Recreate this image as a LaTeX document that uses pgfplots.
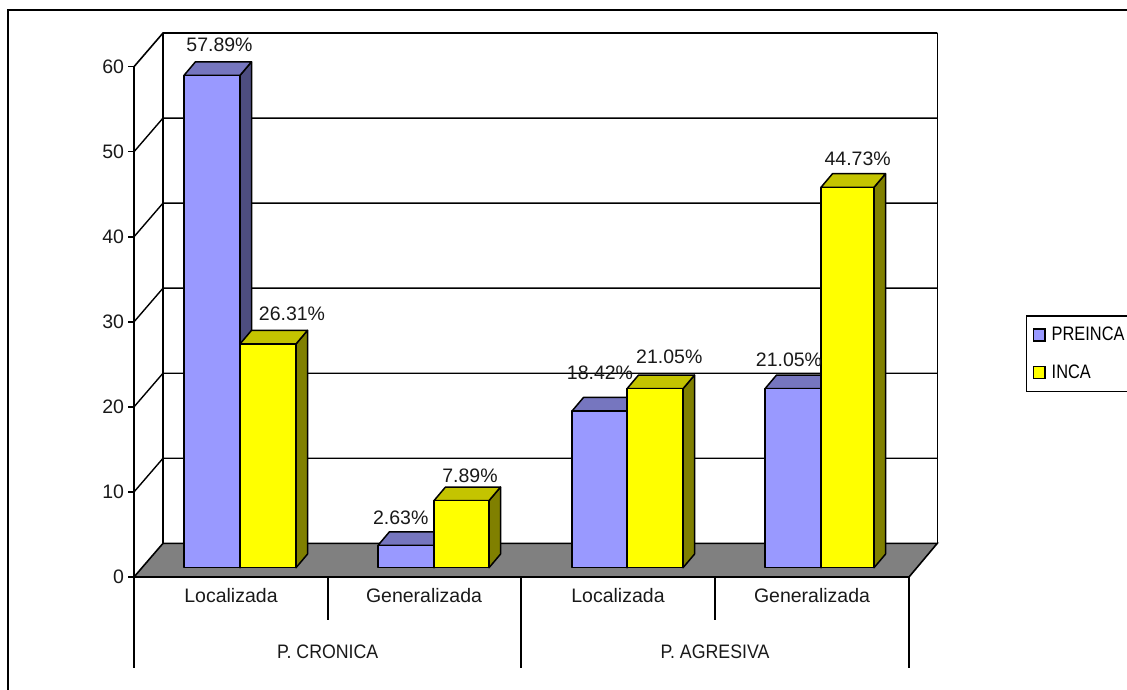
\documentclass[border=0pt]{standalone}
\usepackage{fontspec}
\setmainfont{Liberation Sans}
\usepackage{graphicx}
\usepackage{pgfplots}
\pgfplotsset{compat=1.18}
\definecolor{bf}{HTML}{9999FF}
\definecolor{bt}{HTML}{7676BF}
\definecolor{bs}{HTML}{4D4D80}
\definecolor{yf}{HTML}{FFFF00}
\definecolor{yt}{HTML}{C4C400}
\definecolor{ys}{HTML}{808000}
\definecolor{fl}{HTML}{808080}
\newcommand{\tdbar}[6]{%
  \pgfmathsetmacro\yb{1.09}%
  \pgfmathsetmacro\ybb{1.09+1.6}%
  \pgfmathsetmacro\yv{#3+1.09}%
  \pgfmathsetmacro\yvv{#3+1.09+1.6}%
  \pgfmathsetmacro\xa{#1+11.5}%
  \pgfmathsetmacro\xb{#2+11.5}%
  \edef\doit{%
    \noexpand\addplot[forget plot,draw=black,line width=1.5pt,line join=round,fill=#6] coordinates {(#2,\yb)(\xb,\ybb)(\xb,\yvv)(#2,\yv)} -- cycle;
    \noexpand\addplot[forget plot,draw=black,line width=1.5pt,line join=round,fill=#5] coordinates {(#1,\yv)(\xa,\yvv)(\xb,\yvv)(#2,\yv)} -- cycle;
    \noexpand\addplot[forget plot,draw=black,line width=1.5pt,line join=round,fill=#4] coordinates {(#1,\yb)(#2,\yb)(#2,\yv)(#1,\yv)} -- cycle;
  }\doit}
\newcommand{\lab}[3]{\node[font=\fontsize{19.5}{20}\selectfont,text=black!90,inner sep=0pt] at (axis cs:#1,#2) {#3};}
\begin{document}
\begin{tikzpicture}[x=1pt,y=1pt]
\useasboundingbox (0,0) rectangle (1127,689);
\draw[line width=2.2pt] (8,-3) -- (8,679) -- (1130,679);
\begin{axis}[
  at={(134pt,112pt)},anchor=origin,
  scale only axis,width=775pt,height=510.3pt,
  xmin=0,xmax=775,ymin=0,ymax=60,clip=false,
  axis x line=bottom,axis y line=left,
  axis line style={-,line width=1.6pt,black},
  xtick={97,290,484,678},
  xticklabels={Localizada,Generalizada,Localizada,Generalizada},
  ytick={0,10,20,30,40,50,60},
  /pgf/number format/assume math mode=true,
  tick label style={font=\fontsize{19.5}{20}\selectfont,text=black!90},
  x tick style={draw=none},
  y tick style={line width=1.5pt,black},
  major tick length=6pt,
  tick align=outside,
  yticklabel style={xshift=-0.5pt},
  xticklabel style={anchor=center,yshift=-13pt},
  legend style={at={(axis cs:891.7,30.8)},anchor=north west,draw=black,line width=1.6pt,inner xsep=6pt,inner ysep=9.5pt,
    font=\fontsize{19.5}{20}\selectfont,row sep=18.5pt,legend cell align=left,cells={anchor=west}},
  legend image code/.code={\draw[#1] (0pt,-6pt) rectangle (11.7pt,6pt);},
]
% floor and walls
\addplot[forget plot,draw=black,line width=1.6pt,fill=fl] coordinates {(0,0)(775,0)(803.3,3.96)(29,3.96)} -- cycle;
\addplot[forget plot,black,line width=1.6pt] coordinates {(29,3.96)(29,63.96)};
\addplot[forget plot,black,line width=1.4pt] coordinates {(803.3,3.96)(803.3,63.96)};
\addplot[forget plot,black,line width=1.4pt] coordinates {(0,10)(29,13.96)(803.3,13.96)};
\addplot[forget plot,black,line width=1.4pt] coordinates {(0,20)(29,23.96)(803.3,23.96)};
\addplot[forget plot,black,line width=1.4pt] coordinates {(0,30)(29,33.96)(803.3,33.96)};
\addplot[forget plot,black,line width=1.4pt] coordinates {(0,40)(29,43.96)(803.3,43.96)};
\addplot[forget plot,black,line width=1.4pt] coordinates {(0,50)(29,53.96)(803.3,53.96)};
\addplot[forget plot,black,line width=1.6pt] coordinates {(0,60)(29,63.96)(803.3,63.96)};
% category dividers
\addplot[forget plot,black,line width=1.4pt] coordinates {(0,0)(0,-10.7)};
\addplot[forget plot,black,line width=1.4pt] coordinates {(194,0)(194,-5.06)};
\addplot[forget plot,black,line width=1.4pt] coordinates {(387,0)(387,-10.7)};
\addplot[forget plot,black,line width=1.4pt] coordinates {(581,0)(581,-5.06)};
\addplot[forget plot,black,line width=1.4pt] coordinates {(775,0)(775,-10.7)};
% bars: x0, x1, value
\tdbar{50}{106}{57.89}{bf}{bt}{bs}
\tdbar{106}{162}{26.31}{yf}{yt}{ys}
\tdbar{244}{300}{2.63}{bf}{bt}{bs}
\tdbar{300}{355}{7.89}{yf}{yt}{ys}
\tdbar{438}{493}{18.42}{bf}{bt}{bs}
\tdbar{493}{549}{21.05}{yf}{yt}{ys}
\tdbar{631}{687}{21.05}{bf}{bt}{bs}
\tdbar{687}{740}{44.73}{yf}{yt}{ys}
\addlegendimage{draw=black,line width=1.5pt,fill=bf}
\addlegendentry{\hspace{4pt}\scalebox{0.84}[1]{PREINCA}}
\addlegendimage{draw=black,line width=1.5pt,fill=yf}
\addlegendentry{\hspace{4pt}\scalebox{0.84}[1]{INCA}}
% labels
\lab{85.5}{62.59}{57.89\%}
\lab{158}{30.89}{26.31\%}
\lab{266.7}{6.97}{2.63\%}
\lab{336}{11.88}{7.89\%}
\lab{466}{24.06}{18.42\%}
\lab{535.3}{25.92}{21.05\%}
\lab{655}{25.5}{21.05\%}
\lab{723.7}{49.14}{44.73\%}
% group labels
\node[font=\fontsize{19.5}{20}\selectfont,text=black!90,inner sep=0pt] at (axis cs:193.7,-8.8) {\scalebox{0.91}[1]{P. CRONICA}};
\node[font=\fontsize{19.5}{20}\selectfont,text=black!90,inner sep=0pt] at (axis cs:581,-8.8) {\scalebox{0.91}[1]{P. AGRESIVA}};
\end{axis}
\end{tikzpicture}
\end{document}
